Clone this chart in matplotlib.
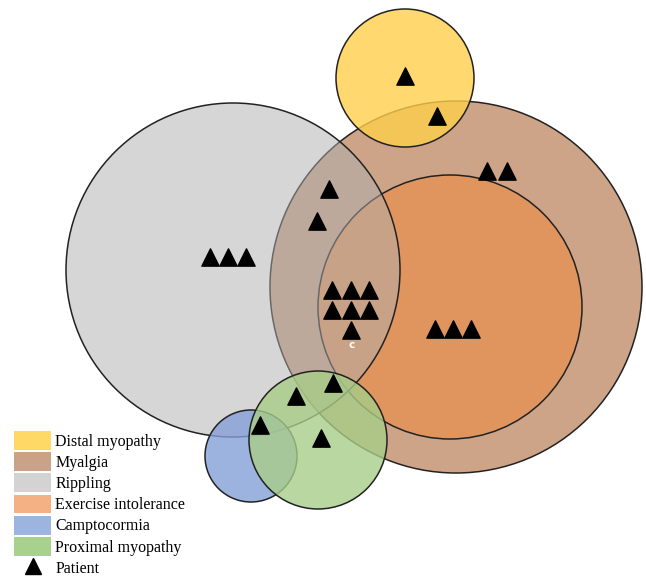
import numpy as np
import matplotlib.pyplot as plt
from matplotlib.patches import Circle, Patch
from matplotlib.lines import Line2D

# Kreise (Pixelkoordinaten des Originals): Name, Mittelpunkt x, y, Radius
# Reihenfolge = Zeichenreihenfolge (Rippling liegt halbtransparent über Myalgia/Exercise)
names = ["Myalgia", "Exercise intolerance", "Rippling", "Distal myopathy",
         "Camptocormia", "Proximal myopathy"]
cx = [456, 450, 233, 405, 251, 318]
cy = [287, 307, 270, 78, 456, 440]
radius = [186, 132, 167, 69, 46, 69]
fill = ["#C18E69", "#E69255", "#AFAFAF", "#FFCF4C", "#85A0D8", "#A8CD88"]
alpha = [0.8, 0.8, 0.5, 0.8, 0.8, 0.8]

# Patienten (Dreiecke)
pat_x = [405, 437, 487, 507, 329, 317, 210, 228, 246,
         332, 351, 369, 332, 351, 369, 351,
         435, 453, 471, 333, 296, 260, 321]
pat_y = [76, 116, 171, 171, 189, 221, 257, 257, 257,
         290, 290, 290, 310, 310, 310, 330,
         329, 329, 329, 383, 396, 425, 438]

legend_names = ["Distal myopathy", "Myalgia", "Rippling", "Exercise intolerance",
                "Camptocormia", "Proximal myopathy"]
legend_colors = ["#FFD966", "#C9A287", "#D3D3D3", "#F4B183", "#9DB3E0", "#A9D18E"]

fig = plt.figure(figsize=(6.46, 5.79), dpi=100)
ax = fig.add_axes([0, 0, 1, 1])
ax.set_xlim(0, 646)
ax.set_ylim(579, 0)
ax.set_aspect("equal")
ax.axis("off")

for i in range(len(names)):
    c = Circle((cx[i], cy[i]), radius[i], facecolor=fill[i], alpha=alpha[i],
               edgecolor="none", zorder=2 + i)
    ax.add_patch(c)
    e = Circle((cx[i], cy[i]), radius[i], facecolor="none",
               edgecolor="#222222", linewidth=1.1, zorder=2 + i)
    ax.add_patch(e)

ax.scatter(pat_x, pat_y, marker="^", s=155, color="black", zorder=20)
ax.text(352, 345, "c", color="white", fontsize=7.5, fontweight="bold",
        ha="center", va="center", zorder=21)

handles = [Patch(facecolor=col, edgecolor="none") for col in legend_colors]
handles.append(Line2D([], [], marker="^", color="black", linestyle="none",
                      markersize=11))
labels = legend_names + ["Patient"]
fig.legend(handles, labels, loc="lower left", bbox_to_anchor=(0.004, -0.016),
           frameon=False, prop={"family": "Liberation Serif", "size": 11.5},
           handlelength=2.35, handleheight=1.45, handletextpad=0.25,
           labelspacing=0.14, borderpad=0.2)

fig.savefig("out.png", dpi=100)
